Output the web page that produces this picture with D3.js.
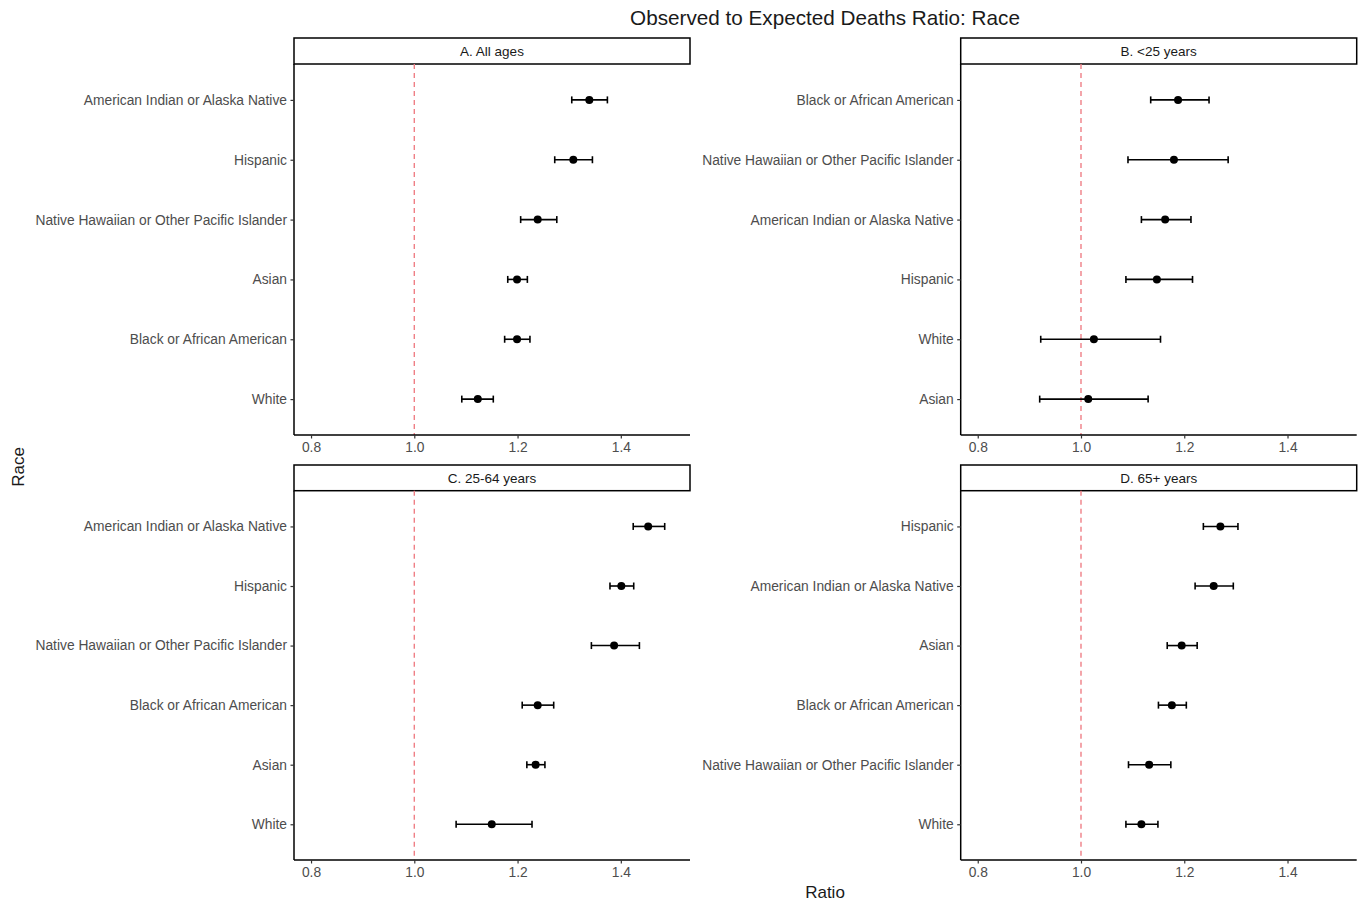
<!DOCTYPE html>
<html><head><meta charset="utf-8">
<script src="https://cdn.jsdelivr.net/npm/d3@7"></script>
<style>body{margin:0;background:#fff;} text{font-family:"Liberation Sans",Arial,sans-serif;}</style>
</head><body><svg id="c" width="1366" height="905"></svg>
<script>
// Data
const panelTitles = ["A. All ages", "B. <25 years", "C. 25-64 years", "D. 65+ years"];
const catsA = ["American Indian or Alaska Native","Hispanic","Native Hawaiian or Other Pacific Islander","Asian","Black or African American","White"];
const estA  = [1.339, 1.308, 1.239, 1.199, 1.199, 1.123];
const lowA  = [1.305, 1.272, 1.206, 1.181, 1.175, 1.092];
const highA = [1.374, 1.345, 1.276, 1.219, 1.224, 1.153];
const catsB = ["Black or African American","Native Hawaiian or Other Pacific Islander","American Indian or Alaska Native","Hispanic","White","Asian"];
const estB  = [1.188, 1.180, 1.163, 1.147, 1.025, 1.014];
const lowB  = [1.135, 1.091, 1.117, 1.087, 0.922, 0.920];
const highB = [1.248, 1.285, 1.213, 1.216, 1.154, 1.130];
const catsC = ["American Indian or Alaska Native","Hispanic","Native Hawaiian or Other Pacific Islander","Black or African American","Asian","White"];
const estC  = [1.453, 1.401, 1.387, 1.239, 1.235, 1.150];
const lowC  = [1.424, 1.379, 1.343, 1.209, 1.218, 1.081];
const highC = [1.485, 1.425, 1.436, 1.270, 1.253, 1.228];
const catsD = ["Hispanic","American Indian or Alaska Native","Asian","Black or African American","Native Hawaiian or Other Pacific Islander","White"];
const estD  = [1.270, 1.257, 1.195, 1.176, 1.132, 1.117];
const lowD  = [1.237, 1.221, 1.167, 1.150, 1.092, 1.087];
const highD = [1.304, 1.295, 1.225, 1.204, 1.174, 1.149];
const xTicks = [0.8, 1.0, 1.2, 1.4];
const refLine = 1.0;
const xDomain = [0.767, 1.534];

const panels = [
  {title: panelTitles[0], cats: catsA, est: estA, low: lowA, high: highA, x0: 294, x1: 690, s0: 38, y0: 64, y1: 435},
  {title: panelTitles[1], cats: catsB, est: estB, low: lowB, high: highB, x0: 960.7, x1: 1356.7, s0: 38, y0: 64, y1: 435},
  {title: panelTitles[2], cats: catsC, est: estC, low: lowC, high: highC, x0: 294, x1: 690, s0: 465, y0: 490.7, y1: 860},
  {title: panelTitles[3], cats: catsD, est: estD, low: lowD, high: highD, x0: 960.7, x1: 1356.7, s0: 465, y0: 490.7, y1: 860}
];

const svg = d3.select("#c");
const labelCol = "#4d4d4d";

panels.forEach(p => {
  const x = d3.scaleLinear().domain(xDomain).range([p.x0, p.x1]);
  const y = d3.scalePoint().domain(p.cats).range([p.y0, p.y1]).padding(0.6);
  const g = svg.append("g");

  // strip
  g.append("rect").attr("x", p.x0).attr("y", p.s0).attr("width", p.x1 - p.x0).attr("height", p.y0 - p.s0)
    .attr("fill", "#fff").attr("stroke", "#000").attr("stroke-width", 1.5);
  g.append("text").attr("x", (p.x0 + p.x1) / 2).attr("y", (p.s0 + p.y0) / 2).attr("dy", "0.35em")
    .attr("text-anchor", "middle").attr("font-size", 13.5).attr("fill", "#1a1a1a").text(p.title);

  // reference line
  g.append("line").attr("x1", x(refLine)).attr("x2", x(refLine)).attr("y1", p.y0).attr("y2", p.y1)
    .attr("stroke", "#ef7f86").attr("stroke-width", 1.4).attr("stroke-dasharray", "5,4");

  // axes
  const xa = g.append("g").attr("transform", `translate(0,${p.y1})`)
    .call(d3.axisBottom(x).tickValues(xTicks).tickFormat(d3.format(".1f")).tickSize(3.5).tickPadding(4));
  const ya = g.append("g").attr("transform", `translate(${p.x0},0)`)
    .call(d3.axisLeft(y).tickSize(3.5).tickPadding(3.5));
  [xa, ya].forEach(a => {
    a.select(".domain").attr("stroke", "#000").attr("stroke-width", 1.5);
    a.selectAll(".tick line").attr("stroke", "#333").attr("stroke-width", 1.2);
    a.selectAll(".tick text").attr("fill", labelCol).attr("font-size", 13.8)
      .attr("font-family", "'Liberation Sans', Arial, sans-serif");
  });
  xa.select(".domain").attr("d", `M${p.x0},0H${p.x1}`);
  ya.select(".domain").attr("d", `M0,${p.y0}V${p.y1}`);

  // error bars & points
  const rows = p.cats.map((c, i) => ({c, e: p.est[i], lo: p.low[i], hi: p.high[i]}));
  const eb = g.append("g").attr("stroke", "#000").attr("stroke-width", 1.6);
  rows.forEach(r => {
    eb.append("line").attr("x1", x(r.lo)).attr("x2", x(r.hi)).attr("y1", y(r.c)).attr("y2", y(r.c));
    eb.append("line").attr("x1", x(r.lo)).attr("x2", x(r.lo)).attr("y1", y(r.c) - 3.5).attr("y2", y(r.c) + 3.5);
    eb.append("line").attr("x1", x(r.hi)).attr("x2", x(r.hi)).attr("y1", y(r.c) - 3.5).attr("y2", y(r.c) + 3.5);
  });
  g.selectAll("circle.pt").data(rows).join("circle").attr("class", "pt")
    .attr("cx", d => x(d.e)).attr("cy", d => y(d.c)).attr("r", 4).attr("fill", "#000");
});

// titles
svg.append("text").attr("x", 825).attr("y", 18).attr("dy", "0.35em").attr("text-anchor", "middle")
  .attr("font-size", 20.7).attr("fill", "#1a1a1a").text("Observed to Expected Deaths Ratio: Race");
svg.append("text").attr("x", 825).attr("y", 892).attr("dy", "0.35em").attr("text-anchor", "middle")
  .attr("font-size", 17).attr("fill", "#1a1a1a").text("Ratio");
svg.append("text").attr("transform", "translate(18,467) rotate(-90)").attr("dy", "0.35em").attr("text-anchor", "middle")
  .attr("font-size", 17).attr("fill", "#1a1a1a").text("Race");
</script></body></html>
